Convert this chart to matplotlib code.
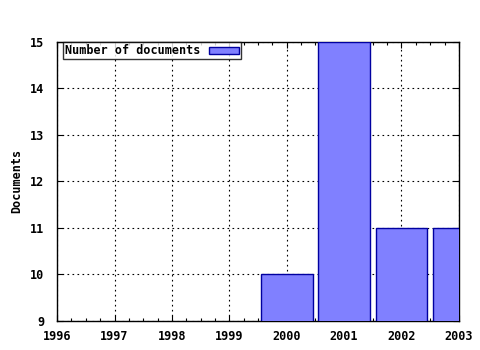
import matplotlib
matplotlib.use("Agg")
import matplotlib.pyplot as plt
from matplotlib.ticker import MultipleLocator

years = [2000, 2001, 2002, 2003]
documents = [10, 15, 11, 11]
x_ticks = [1996, 1997, 1998, 1999, 2000, 2001, 2002, 2003]
y_ticks = [9, 10, 11, 12, 13, 14, 15]

plt.rcParams['font.family'] = ['DejaVu Sans Mono']
plt.rcParams['font.weight'] = 'bold'
FS = 8.5

fig = plt.figure(figsize=(4.8, 3.5), dpi=100)
ax = fig.add_axes([0.119, 0.084, 0.837, 0.797])

ax.bar(years, documents, width=0.9, color='#8080ff', edgecolor='#0000a0',
       linewidth=1.0, label='Number of documents', zorder=3)

ax.set_xlim(1996, 2003)
ax.set_ylim(9, 15)
ax.set_xticks(x_ticks)
ax.set_yticks(y_ticks)
ax.xaxis.set_minor_locator(MultipleLocator(0.25))
ax.tick_params(which='both', direction='in', top=True, right=True,
               labelsize=FS, width=0.8)
ax.tick_params(which='major', length=4)
ax.tick_params(which='minor', length=2)
ax.tick_params(axis='y', pad=9)
ax.tick_params(axis='x', pad=7)
for lbl in ax.get_xticklabels() + ax.get_yticklabels():
    lbl.set_fontweight('bold')

ax.grid(True, which='major', color='black', linestyle=(0, (1.5, 3)),
        linewidth=0.8, zorder=1)
ax.set_axisbelow(True)
for sp in ax.spines.values():
    sp.set_linewidth(1.0)

ax.set_ylabel('Documents', fontsize=FS, fontweight='bold', labelpad=5)

leg = ax.legend(loc='upper left', bbox_to_anchor=(0.015, 0.997),
                markerfirst=False, fontsize=FS,
                frameon=True, fancybox=False, edgecolor='black',
                borderpad=0.15, handlelength=2.6, handleheight=0.55,
                handletextpad=0.7, borderaxespad=0)
leg.get_frame().set_linewidth(1.0)
for t in leg.get_texts():
    t.set_fontweight('bold')

fig.savefig('out.png', dpi=100)
